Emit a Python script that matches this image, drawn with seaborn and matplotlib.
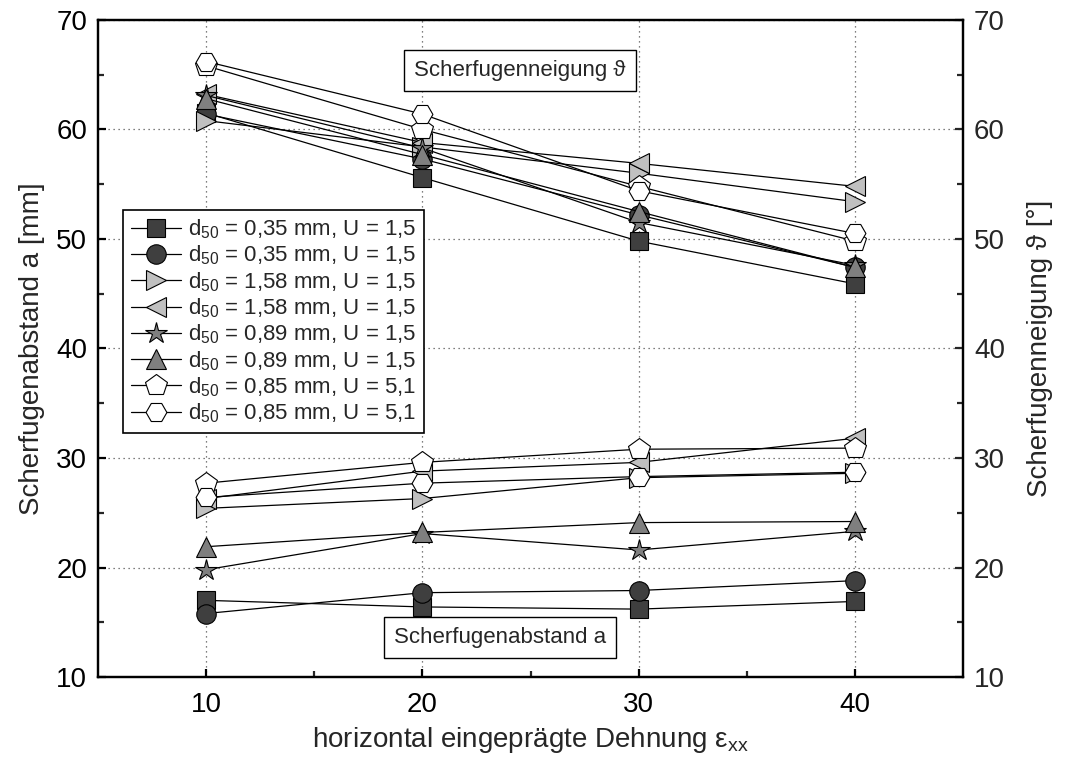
import matplotlib
matplotlib.use("Agg")
import matplotlib.pyplot as plt
import seaborn as sns
import pandas as pd

sns.set_theme(style="white")
plt.rcParams["font.family"] = ["Liberation Sans", "DejaVu Sans"]
plt.rcParams["mathtext.default"] = "regular"

# horizontal strain levels
strain = [10, 20, 30, 40]

legend_labels = [
    "d$_{50}$ = 0,35 mm, U = 1,5",
    "d$_{50}$ = 0,35 mm, U = 1,5",
    "d$_{50}$ = 1,58 mm, U = 1,5",
    "d$_{50}$ = 1,58 mm, U = 1,5",
    "d$_{50}$ = 0,89 mm, U = 1,5",
    "d$_{50}$ = 0,89 mm, U = 1,5",
    "d$_{50}$ = 0,85 mm, U = 5,1",
    "d$_{50}$ = 0,85 mm, U = 5,1",
]

# shear band spacing a [mm]
spacing_sq = [17.0, 16.4, 16.2, 16.9]
spacing_ci = [15.8, 17.7, 17.9, 18.8]
spacing_rt = [25.4, 26.3, 28.2, 28.6]
spacing_lt = [26.3, 28.8, 29.6, 31.8]
spacing_st = [19.8, 23.1, 21.6, 23.3]
spacing_tu = [21.9, 23.2, 24.1, 24.2]
spacing_pe = [27.7, 29.6, 30.8, 30.9]
spacing_hx = [26.4, 27.7, 28.3, 28.7]

# shear band inclination theta [deg]
incl_sq = [61.5, 55.6, 49.8, 45.9]
incl_ci = [61.4, 57.3, 52.2, 47.4]
incl_rt = [60.8, 58.4, 56.0, 53.4]
incl_lt = [63.2, 58.8, 56.9, 54.8]
incl_st = [63.1, 58.3, 51.5, 47.6]
incl_tu = [62.8, 57.7, 52.5, 47.4]
incl_pe = [65.8, 60.0, 54.8, 49.8]
incl_hx = [66.2, 61.4, 54.4, 50.5]

spacing = [spacing_sq, spacing_ci, spacing_rt, spacing_lt,
           spacing_st, spacing_tu, spacing_pe, spacing_hx]
inclination = [incl_sq, incl_ci, incl_rt, incl_lt,
               incl_st, incl_tu, incl_pe, incl_hx]

markers = ["s", "o", ">", "<", "*", "^", "p", "H"]
faces = ["#3f3f3f", "#3f3f3f", "#c0c0c0", "#c0c0c0",
         "#7f7f7f", "#7f7f7f", "#ffffff", "#ffffff"]
sizes = [13, 14, 15, 15, 16, 15, 16, 15]

fig = plt.figure(figsize=(10.67, 7.65), dpi=100)
ax = fig.add_axes([0.092, 0.115, 0.8105, 0.859])

for i in range(8):
    for vals, lab in ((spacing[i], legend_labels[i]), (inclination[i], None)):
        df = pd.DataFrame({"x": strain, "y": vals})
        sns.lineplot(data=df, x="x", y="y", ax=ax, color="black", linewidth=0.9,
                     marker=markers[i], markersize=sizes[i],
                     markerfacecolor=faces[i], markeredgecolor="black",
                     markeredgewidth=0.8, label=lab, legend=False,
                     zorder=3 + i)

ax.set_xlim(5, 45)
ax.set_ylim(10, 70)
ax.set_xticks([10, 20, 30, 40])
ax.set_xticks([15, 25, 35], minor=True)
ax.set_yticks(range(10, 71, 10))
ax.set_yticks(range(15, 70, 10), minor=True)
ax.grid(True, which="major", linestyle=(0, (1, 3)), color="#555555", linewidth=0.9)
ax.set_axisbelow(True)

for s in ax.spines.values():
    s.set_linewidth(1.6)
    s.set_color("black")

ax.tick_params(axis="both", which="major", direction="in", length=6, width=1.6,
               labelsize=20, pad=8, colors="black", bottom=True, left=True)
ax.tick_params(axis="both", which="minor", direction="in", length=4, width=1.6,
               bottom=True, left=True)
ax.tick_params(axis="x", pad=11)

ax.set_xlabel("horizontal eingeprägte Dehnung ε$_{xx}$", fontsize=20, labelpad=5)
ax.set_ylabel("Scherfugenabstand a [mm]", fontsize=20, labelpad=8)

ax2 = ax.twinx()
ax2.set_ylim(10, 70)
ax2.set_yticks(range(10, 71, 10))
ax2.set_yticks(range(15, 70, 10), minor=True)
ax2.tick_params(axis="y", which="major", direction="in", length=6, width=1.6,
                labelsize=20, pad=8, right=True)
ax2.tick_params(axis="y", which="minor", direction="in", length=4, width=1.6,
                right=True)
ax2.set_ylabel("Scherfugenneigung ϑ [°]", fontsize=20, labelpad=16)
ax2.grid(False)
for s in ax2.spines.values():
    s.set_linewidth(1.6)
    s.set_color("black")

handles, labels = ax.get_legend_handles_labels()
leg = ax.legend(handles, labels, loc="upper left", bbox_to_anchor=(0.029, 0.711),
                fontsize=16, frameon=True, fancybox=False, edgecolor="black",
                framealpha=1, handlelength=2.25, handletextpad=0.3,
                labelspacing=0.12, borderpad=0.35, borderaxespad=0)
leg.get_frame().set_linewidth(1.2)
leg.set_zorder(20)

box = dict(boxstyle="square,pad=0.45", facecolor="white", edgecolor="black", linewidth=1.0)
ax.text(24.5, 65.4, "Scherfugenneigung ϑ", fontsize=16, ha="center", va="center",
        bbox=box, zorder=20)
ax.text(23.6, 13.6, "Scherfugenabstand a", fontsize=16, ha="center", va="center",
        bbox=box, zorder=20)

fig.savefig("out.png", dpi=100)
